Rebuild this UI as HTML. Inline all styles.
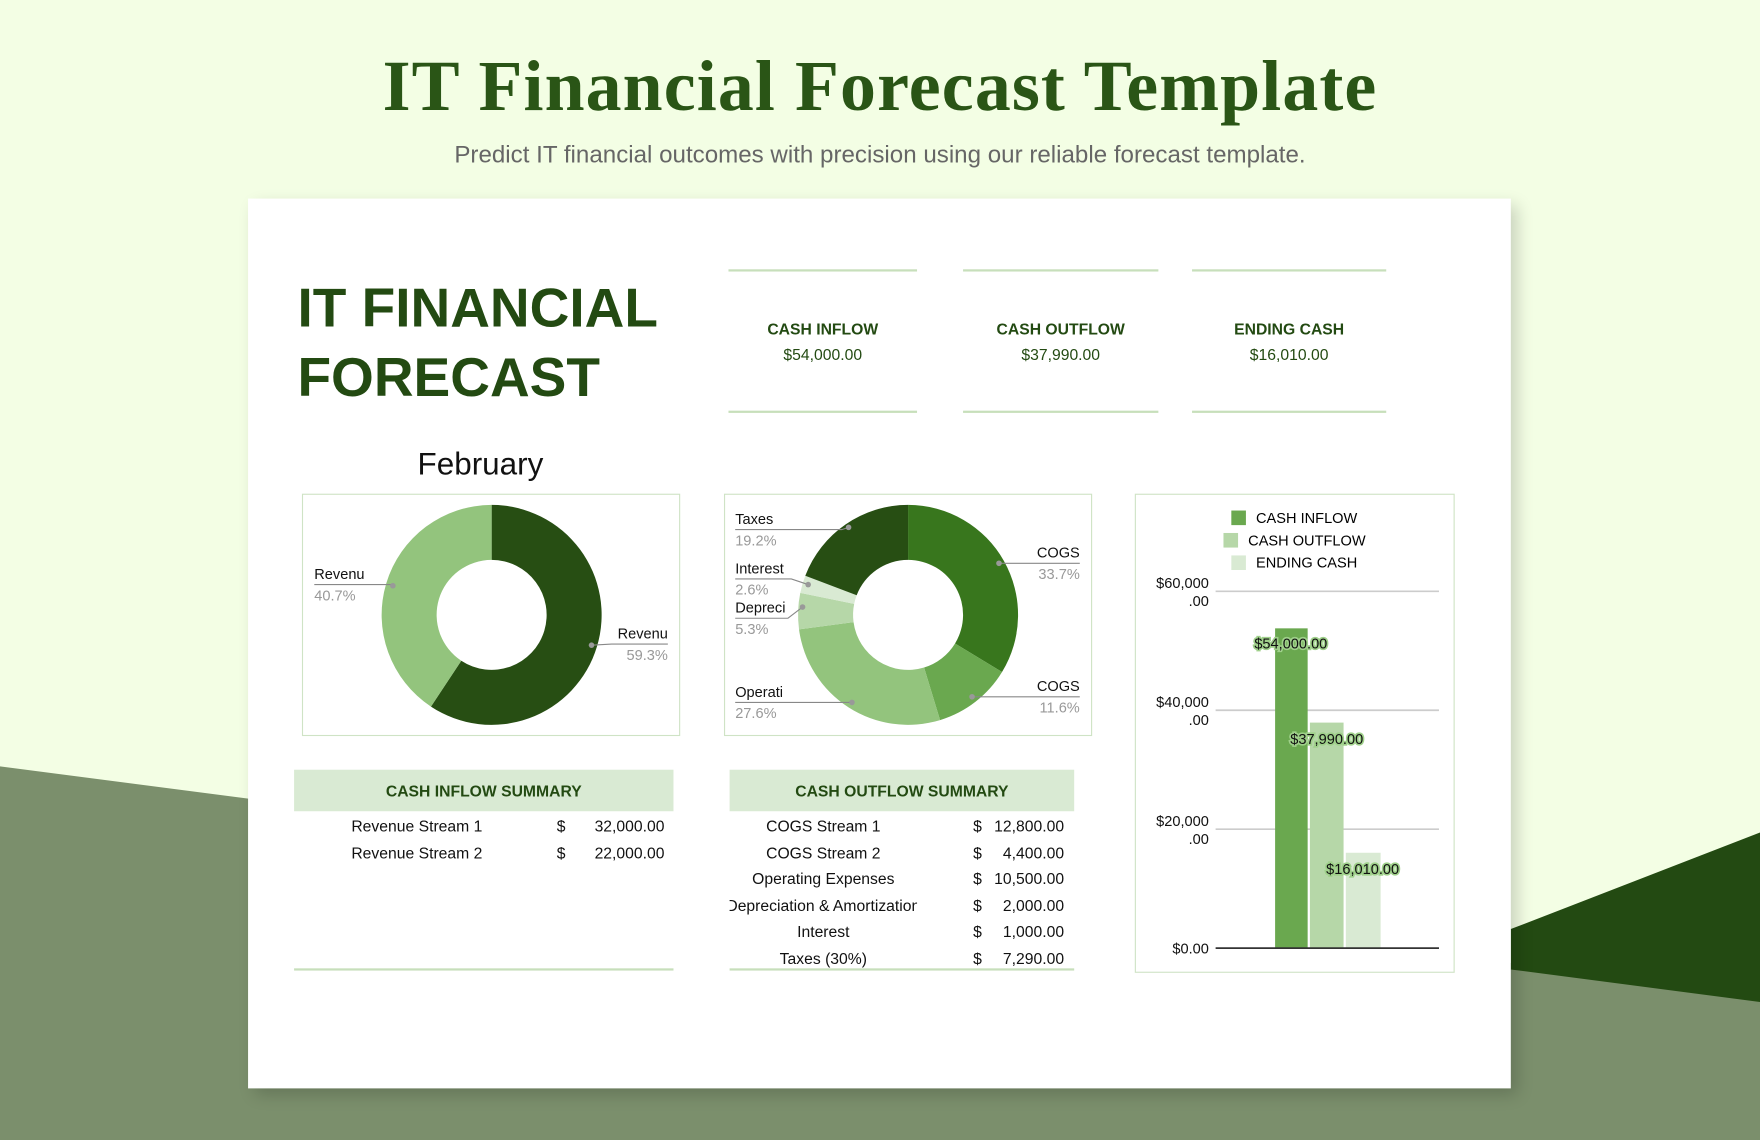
<!DOCTYPE html>
<html><head><meta charset="utf-8">
<style>
html,body{margin:0;padding:0;width:1760px;height:1140px;overflow:hidden;background:#f3fee4;}
#stage{position:absolute;left:0;top:0;width:1568px;height:1016px;transform:scale(1.12245,1.12205);transform-origin:0 0;font-family:"Liberation Sans",Arial,sans-serif;}
.a{position:absolute;}
.t{position:absolute;white-space:nowrap;}
.g{color:#234a12;font-weight:bold;}
.line{position:absolute;height:2px;background:#c7dfbb;}
.box{position:absolute;border:1.5px solid #cfe3c5;box-sizing:border-box;}
.row{position:absolute;font-size:14px;color:#111;white-space:nowrap;}
</style></head><body>
<div id="stage">
<svg class="a" style="left:0;top:0" width="1568" height="1016">
  <polygon points="0,683 1568,887 1568,1016 0,1016" fill="#7b8f6c"/>
  <polygon points="1346,828 1568,742 1568,893 1346,864" fill="#234a12"/>
</svg>
<div class="t" style="left:0;width:1568px;text-align:center;top:40px;font-family:'Liberation Serif',serif;font-size:64px;font-weight:bold;color:#2a5516;letter-spacing:1px;">IT Financial Forecast Template</div>
<div class="t" style="left:0;width:1568px;text-align:center;top:126px;font-size:21.5px;color:#666;">Predict IT financial outcomes with precision using our reliable forecast template.</div>

<div class="a" style="left:221px;top:177px;width:1125px;height:793px;background:#fff;box-shadow:6px 6px 14px rgba(0,0,0,0.18);"></div>

<div class="t g" style="left:265px;top:244px;font-size:49px;line-height:62px;">IT FINANCIAL<br>FORECAST</div>

<div class="line" style="left:649px;top:240px;width:168px"></div>
<div class="line" style="left:649px;top:366px;width:168px"></div>
<div class="line" style="left:858px;top:240px;width:174px"></div>
<div class="line" style="left:858px;top:366px;width:174px"></div>
<div class="line" style="left:1062px;top:240px;width:173px"></div>
<div class="line" style="left:1062px;top:366px;width:173px"></div>
<div class="t g" style="left:649px;width:168px;text-align:center;top:285px;font-size:14px;">CASH INFLOW</div>
<div class="t" style="left:649px;width:168px;text-align:center;top:308px;font-size:14px;color:#234a12;">$54,000.00</div>
<div class="t g" style="left:858px;width:174px;text-align:center;top:285px;font-size:14px;">CASH OUTFLOW</div>
<div class="t" style="left:858px;width:174px;text-align:center;top:308px;font-size:14px;color:#234a12;">$37,990.00</div>
<div class="t g" style="left:1062px;width:173px;text-align:center;top:285px;font-size:14px;">ENDING CASH</div>
<div class="t" style="left:1062px;width:173px;text-align:center;top:308px;font-size:14px;color:#234a12;">$16,010.00</div>

<div class="t" style="left:372px;top:398px;font-size:28px;color:#111;">February</div>
<div class="box" style="left:269px;top:440px;width:337px;height:216px"></div>
<div class="box" style="left:645px;top:440px;width:328px;height:216px"></div>
<div class="box" style="left:1011px;top:440px;width:285px;height:427px"></div>

<svg id="charts" class="a" style="left:0;top:0" width="1568" height="1016" font-family="Liberation Sans, Arial, sans-serif"></svg>

<svg class="a" style="left:0;top:0" width="1568" height="1016" font-family="Liberation Sans, Arial, sans-serif" font-size="13">
  <rect x="1097" y="455" width="13" height="13" fill="#6aa84f"/>
  <text x="1119" y="466">CASH INFLOW</text>
  <rect x="1090" y="475" width="13" height="13" fill="#b6d7a8"/>
  <text x="1112" y="486">CASH OUTFLOW</text>
  <rect x="1097" y="495" width="13" height="13" fill="#d9ead3"/>
  <text x="1119" y="506">ENDING CASH</text>
  <g stroke="#ccc" stroke-width="1.5">
    <line x1="1083" y1="527" x2="1282" y2="527"/>
    <line x1="1083" y1="633" x2="1282" y2="633"/>
    <line x1="1083" y1="739" x2="1282" y2="739"/>
  </g>
  <g text-anchor="end" fill="#111">
    <text x="1077" y="524">$60,000</text><text x="1077" y="540">.00</text>
    <text x="1077" y="630">$40,000</text><text x="1077" y="646">.00</text>
    <text x="1077" y="736">$20,000</text><text x="1077" y="752">.00</text>
    <text x="1077" y="850">$0.00</text>
  </g>
  <rect x="1136" y="560" width="29" height="285" fill="#6aa84f"/>
  <rect x="1167" y="644" width="30" height="201" fill="#b6d7a8"/>
  <rect x="1199" y="760" width="31" height="85" fill="#d9ead3"/>
  <line x1="1083" y1="845" x2="1282" y2="845" stroke="#333" stroke-width="1.5"/>
  <g text-anchor="middle" font-size="13" stroke="#9fd08a" stroke-width="3" paint-order="stroke" fill="#111">
    <text x="1150" y="578">$54,000.00</text>
    <text x="1182" y="663">$37,990.00</text>
    <text x="1214" y="779">$16,010.00</text>
  </g>
</svg>

<div class="a" style="left:262px;top:686px;width:338px;height:37px;background:#d9ead3"></div>
<div class="t g" style="left:262px;width:338px;text-align:center;top:697px;font-size:14px;">CASH INFLOW SUMMARY</div>
<div class="row" style="left:313px;top:728px">Revenue Stream 1</div><div class="row" style="left:496px;top:728px">$</div><div class="row" style="left:480px;width:112px;text-align:right;top:728px">32,000.00</div>
<div class="row" style="left:313px;top:752px">Revenue Stream 2</div><div class="row" style="left:496px;top:752px">$</div><div class="row" style="left:480px;width:112px;text-align:right;top:752px">22,000.00</div>
<div class="line" style="left:262px;top:863px;width:338px;height:1.5px"></div>

<div class="a" style="left:650px;top:686px;width:307px;height:37px;background:#d9ead3"></div>
<div class="t g" style="left:650px;width:307px;text-align:center;top:697px;font-size:14px;">CASH OUTFLOW SUMMARY</div>
<div class="a" style="left:650px;top:724px;width:167px;height:140px;overflow:hidden;">
 <div class="row" style="left:0;width:167px;text-align:center;top:4px">COGS Stream 1</div>
 <div class="row" style="left:0;width:167px;text-align:center;top:28px">COGS Stream 2</div>
 <div class="row" style="left:0;width:167px;text-align:center;top:51px">Operating Expenses</div>
 <div class="row" style="left:-20px;width:207px;text-align:center;top:75px">Depreciation &amp; Amortization</div>
 <div class="row" style="left:0;width:167px;text-align:center;top:98px">Interest</div>
 <div class="row" style="left:0;width:167px;text-align:center;top:122px">Taxes (30%)</div>
</div>
<div class="row" style="left:867px;top:728px">$</div><div class="row" style="left:840px;width:108px;text-align:right;top:728px">12,800.00</div>
<div class="row" style="left:867px;top:752px">$</div><div class="row" style="left:840px;width:108px;text-align:right;top:752px">4,400.00</div>
<div class="row" style="left:867px;top:775px">$</div><div class="row" style="left:840px;width:108px;text-align:right;top:775px">10,500.00</div>
<div class="row" style="left:867px;top:799px">$</div><div class="row" style="left:840px;width:108px;text-align:right;top:799px">2,000.00</div>
<div class="row" style="left:867px;top:822px">$</div><div class="row" style="left:840px;width:108px;text-align:right;top:822px">1,000.00</div>
<div class="row" style="left:867px;top:846px">$</div><div class="row" style="left:840px;width:108px;text-align:right;top:846px">7,290.00</div>
<div class="line" style="left:650px;top:863px;width:307px;height:1.5px"></div>
</div>
<script>
(function(){
 var svg=document.getElementById('charts'),h='';
 function pt(cx,cy,r,f){var a=f*2*Math.PI;return [cx+r*Math.sin(a),cy-r*Math.cos(a)];}
 function seg(cx,cy,R,r,f0,f1,c){var p1=pt(cx,cy,R,f0),p2=pt(cx,cy,R,f1),p3=pt(cx,cy,r,f1),p4=pt(cx,cy,r,f0),l=(f1-f0)>0.5?1:0;
  return '<path d="M'+p1+' A'+R+','+R+' 0 '+l+' 1 '+p2+' L'+p3+' A'+r+','+r+' 0 '+l+' 0 '+p4+'Z" fill="'+c+'"/>';}
 h+=seg(438,548,98,49,0,0.593,'#274e13');
 h+=seg(438,548,98,49,0.593,1,'#93c47d');
 var d=[[0,.337,'#38761d'],[.337,.453,'#6aa84f'],[.453,.729,'#93c47d'],[.729,.782,'#b6d7a8'],[.782,.808,'#d9ead3'],[.808,1,'#274e13']];
 d.forEach(function(s){h+=seg(809,548,98,49,s[0],s[1],s[2]);});
 function lab(x,y,name,pct,lx1,lx2,dx,dy,anchor){
  h+='<text x="'+x+'" y="'+y+'" font-size="13" fill="#111" text-anchor="'+anchor+'">'+name+'</text>';
  h+='<text x="'+x+'" y="'+(y+19)+'" font-size="13" fill="#999" text-anchor="'+anchor+'">'+pct+'</text>';
  h+='<polyline points="'+lx1+','+(y+5)+' '+lx2+','+(y+5)+' '+dx+','+dy+'" fill="none" stroke="#888" stroke-width="1"/>';
  h+='<circle cx="'+dx+'" cy="'+dy+'" r="2.5" fill="#999"/>';
 }
 lab(280,516,'Revenu','40.7%',280,348,350,522,'start');
 lab(595,569,'Revenu','59.3%',595,545,527,575,'end');
 lab(655,467,'Taxes','19.2%',655,750,756,470,'start');
 lab(655,511,'Interest','2.6%',655,705,720,521,'start');
 lab(655,546,'Depreci','5.3%',655,702,715,541,'start');
 lab(655,621,'Operati','27.6%',655,735,759,626,'start');
 lab(962,497,'COGS','33.7%',962,900,890,502,'end');
 lab(962,616,'COGS','11.6%',962,880,866,621,'end');
 svg.innerHTML=h;
})();
</script>
</body></html>
